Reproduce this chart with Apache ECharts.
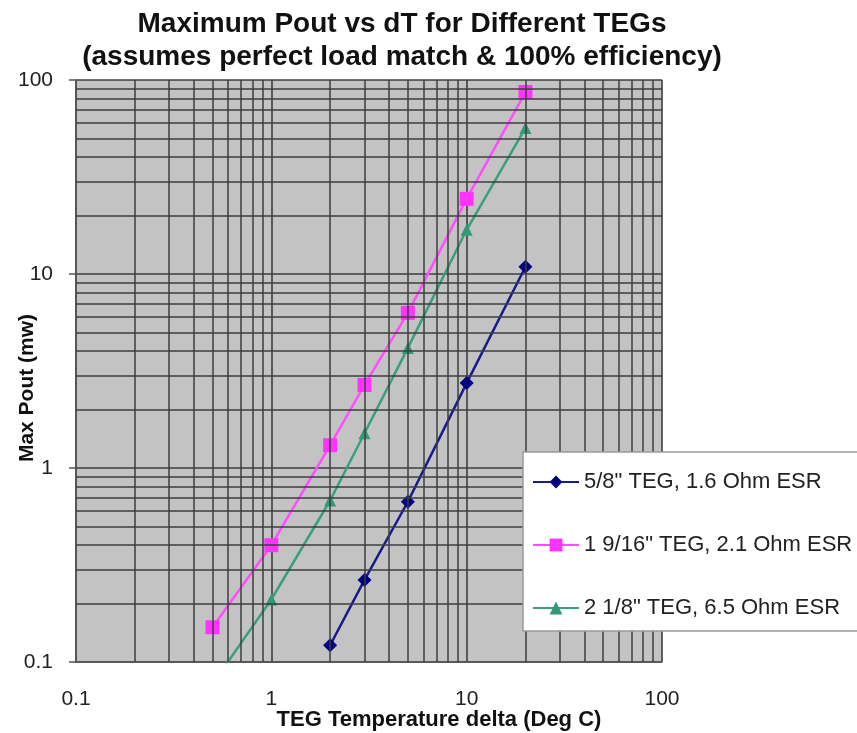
<!DOCTYPE html>
<html><head><meta charset="utf-8">
<script src="https://cdn.jsdelivr.net/npm/echarts@6/dist/echarts.min.js"></script>
<style>html,body{margin:0;padding:0;background:#fff}#c{width:857px;height:733px}</style>
</head><body><div id="c"></div>
<script>
// Data
const dT = [0.5, 1, 2, 3, 5, 10, 20];
const teg58 = [null, null, 0.122, 0.265, 0.67, 2.74, 10.9];
const teg1916 = [0.151, 0.40, 1.31, 2.68, 6.3, 24.4, 86.7];
const teg218 = [0.077, 0.21, 0.68, 1.51, 4.16, 16.9, 56.6];
const seriesNames = ['5/8" TEG, 1.6 Ohm ESR', '1 9/16" TEG, 2.1 Ohm ESR', '2 1/8" TEG, 6.5 Ohm ESR'];
const xTickLabels = ['0.1', '1', '10', '100'];
const yTickLabels = ['0.1', '1', '10', '100'];
const minorX = [0.2, 0.3, 0.4, 0.5, 0.6, 0.7, 0.8, 0.9, 2, 3, 4, 5, 6, 7, 8, 9, 20, 30, 40, 50, 60, 70, 80, 90];
const minorY = [0.2, 0.3, 0.4, 0.5, 0.6, 0.7, 0.8, 0.9, 2, 3, 4, 5, 6, 7, 8, 9, 20, 30, 40, 50, 60, 70, 80, 90];

const FONT = '"Liberation Sans", Arial, sans-serif';
function pairs(vals) {
  const out = [];
  vals.forEach((v, i) => { if (v !== null) out.push([dT[i], v]); });
  return out;
}
function fmt(v) {
  const l = Math.round(Math.log10(v));
  return xTickLabels[l + 1] || '';
}
function fmtY(v) {
  const l = Math.round(Math.log10(v));
  return yTickLabels[l + 1] || '';
}

const chart = echarts.init(document.getElementById('c'), null, {renderer: 'canvas'});
const gridColor = '#3e3e3e';
chart.setOption({
  animation: false,
  backgroundColor: '#ffffff',
  title: {
    text: 'Maximum Pout vs dT for Different TEGs\n(assumes perfect load match & 100% efficiency)',
    left: 402, textAlign: 'center', top: 8, padding: 0,
    textStyle: {fontFamily: FONT, fontSize: 28, fontWeight: 'bold', color: '#111', lineHeight: 33}
  },
  grid: {left: 76, right: 195, top: 80, bottom: 71, show: true, backgroundColor: '#c3c3c3', borderWidth: 0,
         containLabel: false, outerBoundsMode: 'none'},
  legend: {
    orient: 'vertical', left: 523, top: 452, z: 20,
    padding: [19, 40, 12, 9], itemGap: 41, itemWidth: 46, itemHeight: 16,
    backgroundColor: '#ffffff', borderColor: '#9a9a9a', borderWidth: 1.5, borderRadius: 0,
    textStyle: {fontFamily: FONT, fontSize: 22, color: '#222'},
    data: seriesNames
  },
  xAxis: {
    type: 'log', logBase: 10, min: 0.1, max: 100,
    name: 'TEG Temperature delta (Deg C)', nameLocation: 'middle', nameGap: 47, nameMoveOverlap: false,
    nameTextStyle: {fontFamily: FONT, fontSize: 22, fontWeight: 'bold', color: '#111', padding: [0, 0, 0, 140]},
    axisLine: {show: true, lineStyle: {color: '#555', width: 1.5}},
    axisTick: {show: false},
    axisLabel: {fontFamily: FONT, fontSize: 21, color: '#222', margin: 27, formatter: fmt},
    splitLine: {show: true, lineStyle: {color: gridColor, width: 1.6}}
  },
  yAxis: {
    type: 'log', logBase: 10, min: 0.1, max: 100,
    name: 'Max Pout (mw)', nameLocation: 'middle', nameGap: 38, nameMoveOverlap: false,
    nameTextStyle: {fontFamily: FONT, fontSize: 21, fontWeight: 'bold', color: '#111', padding: [0, 34, 0, 0]},
    axisLine: {show: true, lineStyle: {color: '#555', width: 1.5}},
    axisTick: {show: true, length: 7, lineStyle: {color: '#555', width: 1.5}},
    axisLabel: {fontFamily: FONT, fontSize: 21, color: '#222', margin: 23, formatter: fmtY},
    splitLine: {show: true, lineStyle: {color: gridColor, width: 1.6}}
  },
  series: [
    {
      name: '_minor', type: 'line', data: [], z: 1, silent: true,
      markLine: {
        silent: true, symbol: ['none', 'none'], label: {show: false}, animation: false,
        lineStyle: {color: gridColor, width: 1.5, type: 'solid'},
        emphasis: {disabled: true},
        data: minorX.map(v => ({xAxis: v})).concat(minorY.map(v => ({yAxis: v})))
      }
    },
    {
      name: seriesNames[0], type: 'line', data: pairs(teg58), z: 3,
      symbol: 'diamond', symbolSize: 14, color: '#000080',
      lineStyle: {width: 2.5, color: '#1a1a8c'}, itemStyle: {color: '#000080'}
    },
    {
      name: seriesNames[1], type: 'line', data: pairs(teg1916), z: 3,
      symbol: 'rect', symbolSize: 14, color: '#ff33ff',
      lineStyle: {width: 2.5, color: '#ff4dff'}, itemStyle: {color: '#ff33ff'}
    },
    {
      name: seriesNames[2], type: 'line', data: pairs(teg218), z: 3,
      symbol: 'triangle', symbolSize: 12, color: '#339977',
      lineStyle: {width: 2.5, color: '#3a9e80'}, itemStyle: {color: '#339977'}
    }
  ]
});
</script>
</body></html>
